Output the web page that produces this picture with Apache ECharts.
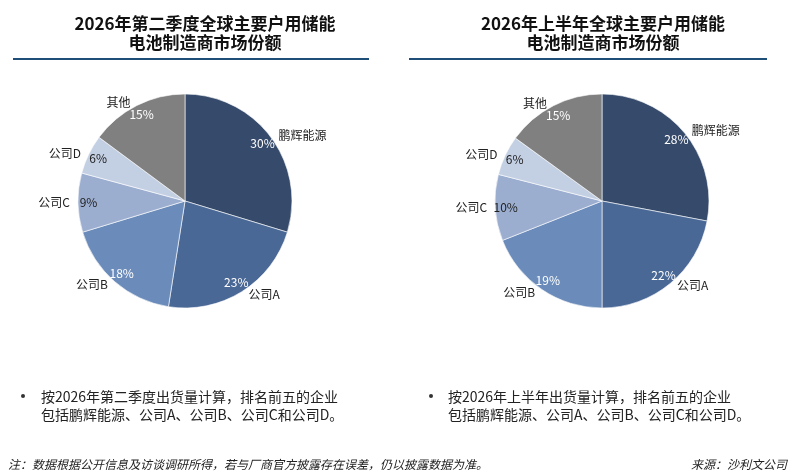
<!DOCTYPE html>
<html>
<head>
<meta charset="utf-8">
<script src="https://cdn.jsdelivr.net/npm/echarts@6/dist/echarts.min.js"></script>
<style>
  html, body { margin: 0; padding: 0; background: #fff; }
  #main { width: 800px; height: 473px; }
</style>
</head>
<body>
<div id="main"></div>
<script type="text/javascript">
// 数据
var names = ['鹏辉能源', '公司A', '公司B', '公司C', '公司D', '其他'];
var q2Share = [30, 23, 18, 9, 6, 15];     // 2026年第二季度
var h1Share = [28, 22, 19, 10, 6, 15];    // 2026年上半年
var colors = ['#364b6b', '#4a6896', '#6b8cba', '#9caed0', '#c3cfe3', '#808080'];
var pctColors = ['#fff', '#fff', '#fff', '#222', '#222', '#fff'];

var titleLeft = '2026年第二季度全球主要户用储能\n电池制造商市场份额';
var titleRight = '2026年上半年全球主要户用储能\n电池制造商市场份额';
var noteLeft = '按2026年第二季度出货量计算，排名前五的企业\n包括鹏辉能源、公司A、公司B、公司C和公司D。';
var noteRight = '按2026年上半年出货量计算，排名前五的企业\n包括鹏辉能源、公司A、公司B、公司C和公司D。';
var footNote = '注：数据根据公开信息及访谈调研所得，若与厂商官方披露存在误差，仍以披露数据为准。';
var source = '来源：沙利文公司';

var FONT = '"Noto Sans CJK SC", "Noto Sans", sans-serif';
var R = 107;

function toData(values) {
	return names.map(function (n, i) {
		return { name: n, value: values[i], itemStyle: { color: colors[i] } };
	});
}
function toPctData(values) {
	return names.map(function (n, i) {
		return { name: n, value: values[i], label: { color: pctColors[i] } };
	});
}

// 名称（外侧）+ 底色扇区
function pieSeries(values, center) {
	return {
		type: 'pie',
		center: center,
		radius: [0, R],
		startAngle: 90,
		clockwise: true,
		avoidLabelOverlap: false,
		silent: true,
		itemStyle: { borderColor: '#fff', borderWidth: 0.6 },
		label: {
			show: true,
			position: 'outside',
			formatter: '{b}',
			fontSize: 12,
			fontFamily: FONT,
			color: '#222'
		},
		labelLine: { show: false, length: 3, length2: 0 },
		data: toData(values)
	};
}
// 百分比（内侧，靠近外缘）
function pctSeries(values, center) {
	return {
		type: 'pie',
		center: center,
		radius: [80, R],
		startAngle: 90,
		clockwise: true,
		avoidLabelOverlap: false,
		silent: true,
		itemStyle: { color: 'rgba(0,0,0,0)' },
		label: {
			show: true,
			position: 'inside',
			formatter: '{c}%',
			fontSize: 12,
			fontFamily: FONT
		},
		labelLine: { show: false },
		data: toPctData(values)
	};
}

var chart = echarts.init(document.getElementById('main'));
var option = {
	backgroundColor: '#fff',
	animation: false,
	title: [
		{
			text: titleLeft, left: 200, top: 9, textAlign: 'center',
			textStyle: { fontSize: 17, fontWeight: 'bold', color: '#111', fontFamily: FONT, lineHeight: 19 }
		},
		{
			text: titleRight, left: 598, top: 9, textAlign: 'center',
			textStyle: { fontSize: 17, fontWeight: 'bold', color: '#111', fontFamily: FONT, lineHeight: 19 }
		},
		{
			text: noteLeft, left: 36, top: 383,
			textStyle: { fontSize: 14, fontWeight: 'normal', color: '#222', fontFamily: FONT, lineHeight: 18 }
		},
		{
			text: noteRight, left: 443, top: 383,
			textStyle: { fontSize: 14, fontWeight: 'normal', color: '#222', fontFamily: FONT, lineHeight: 18 }
		},
		{
			text: footNote, left: 3, top: 453,
			textStyle: { fontSize: 12, fontWeight: 'normal', fontStyle: 'italic', color: '#222', fontFamily: FONT }
		},
		{
			text: source, right: 8, top: 453,
			textStyle: { fontSize: 12, fontWeight: 'normal', fontStyle: 'italic', color: '#222', fontFamily: FONT }
		}
	],
	graphic: [
		{ type: 'line', shape: { x1: 13, y1: 59, x2: 369, y2: 59 }, style: { stroke: '#1f4e79', lineWidth: 2 } },
		{ type: 'line', shape: { x1: 409, y1: 59, x2: 767, y2: 59 }, style: { stroke: '#1f4e79', lineWidth: 2 } },
		{ type: 'circle', shape: { cx: 23, cy: 396, r: 2 }, style: { fill: '#333' } },
		{ type: 'circle', shape: { cx: 431, cy: 396, r: 2 }, style: { fill: '#333' } }
	],
	series: [
		pieSeries(q2Share, [185, 201]),
		pctSeries(q2Share, [185, 201]),
		pieSeries(h1Share, [602, 201]),
		pctSeries(h1Share, [602, 201])
	]
};
chart.setOption(option);
</script>
</body>
</html>
